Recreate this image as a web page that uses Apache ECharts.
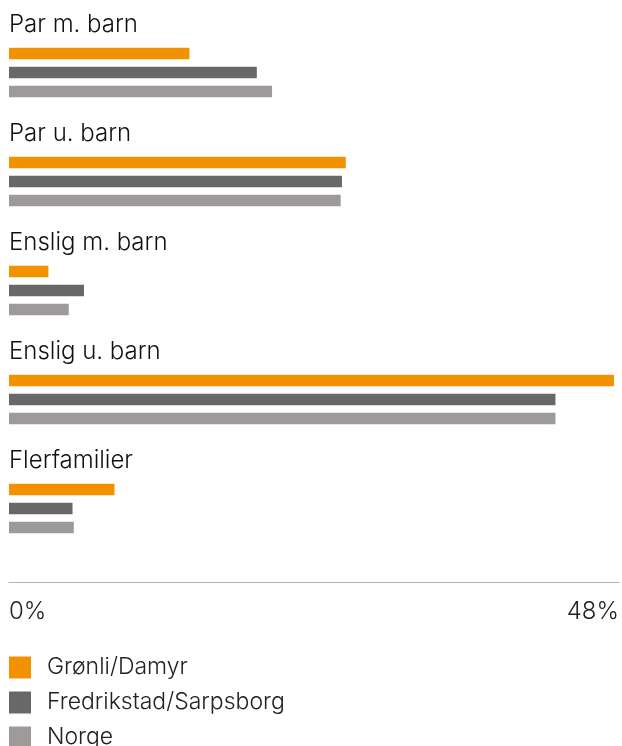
<!DOCTYPE html>
<html>
<head>
<meta charset="utf-8">
<script src="https://cdn.jsdelivr.net/npm/echarts@6/dist/echarts.min.js"></script>
<style>html,body{margin:0;padding:0;background:#fff}#c{width:622px;height:746px}</style>
</head>
<body>
<div id="c"></div>
<script>
const categories = ['Par m. barn', 'Par u. barn', 'Enslig m. barn', 'Enslig u. barn', 'Flerfamilier'];
const seriesNames = ['Grønli/Damyr', 'Fredrikstad/Sarpsborg', 'Norge'];
const gronli = [14.2, 26.5, 3.1, 47.6, 8.3];
const fredrikstad = [19.5, 26.2, 5.9, 43.0, 5.0];
const norge = [20.7, 26.1, 4.7, 43.0, 5.1];
const axisMin = 0;
const axisMax = 48;
const colors = ['#F39200', '#686868', '#9E9A99'];
const FONT = 'Inter';

const chart = echarts.init(document.getElementById('c'), null, {renderer: 'canvas'});
const values = [gronli, fredrikstad, norge];
chart.setOption({
  animation: false,
  textStyle: {fontFamily: FONT},
  grid: {left: 9, right: 2, top: 18, height: 545, containLabel: false},
  xAxis: {
    type: 'value', min: axisMin, max: axisMax, interval: 48,
    offset: 19,
    axisLine: {show: true, lineStyle: {color: '#b3b3b3', width: 1}},
    axisTick: {show: false},
    splitLine: {show: false},
    axisLabel: {
      formatter: v => v + '%', fontSize: 24, fontWeight: 300, color: '#222', margin: 18,
      fontFamily: FONT, alignMinLabel: 'left', alignMaxLabel: 'right'
    }
  },
  yAxis: {
    type: 'category', data: categories, inverse: true,
    axisLine: {show: false}, axisTick: {show: false}, splitLine: {show: false},
    axisLabel: {
      inside: true, margin: 0, fontSize: 24, fontWeight: 300, color: '#111', fontFamily: FONT,
      verticalAlign: 'bottom', lineHeight: 26, padding: [0, 0, 35, 0]
    }
  },
  legend: {
    orient: 'vertical', left: 9, top: 656, height: 120, itemWidth: 22, itemHeight: 22, itemGap: 12,
    icon: 'rect', padding: 0,
    textStyle: {fontSize: 23, lineHeight: 22, fontWeight: 300, color: '#222', fontFamily: FONT, padding: [0, 0, 0, 11]},
    data: seriesNames
  },
  series: seriesNames.map((n, i) => ({
    name: n, type: 'bar', data: values[i], barWidth: 11.5, barGap: '66%',
    itemStyle: {color: colors[i]}, silent: true
  }))
});
</script>
</body>
</html>
